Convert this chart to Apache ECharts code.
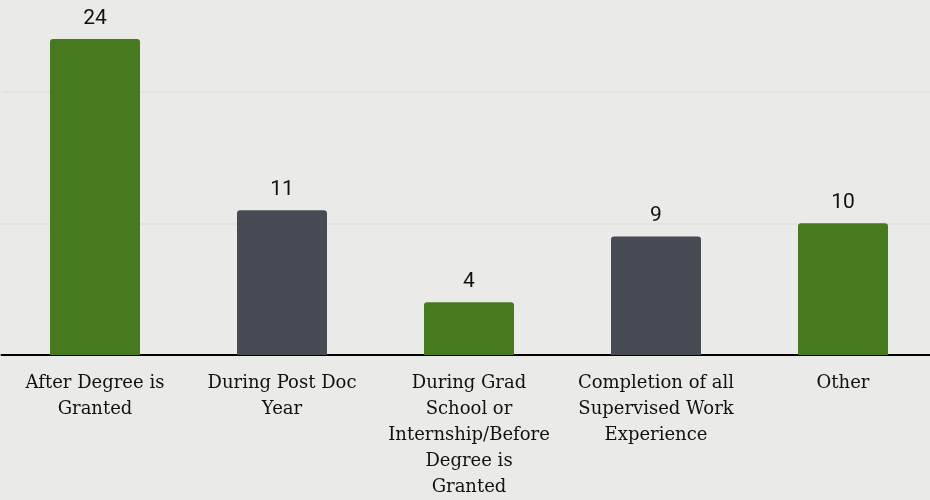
<!DOCTYPE html>
<html>
<head>
<meta charset="utf-8">
<script src="https://cdn.jsdelivr.net/npm/echarts@6/dist/echarts.min.js"></script>
<style>
  html, body { margin:0; padding:0; background:#eaebe8; }
  #main { width:930px; height:500px; }
</style>
</head>
<body>
<div id="main"></div>
<script>
// data
var categories = [
  "After Degree is\nGranted",
  "During Post Doc\nYear",
  "During Grad\nSchool or\nInternship/Before\nDegree is\nGranted",
  "Completion of all\nSupervised Work\nExperience",
  "Other"
];
var counts = [24, 11, 4, 9, 10];
var barColors = ["#477a1e", "#474b53", "#477a1e", "#474b53", "#477a1e"];

var myChart = echarts.init(document.getElementById("main"));

var option = {
  backgroundColor: "#eaebe8",
  animation: false,
  grid: {
    left: 1.5,
    width: 935,
    top: 39,
    bottom: 145,
    outerBoundsMode: "none",
    containLabel: false
  },
  xAxis: {
    type: "category",
    data: categories,
    axisTick: { show: false },
    axisLine: { lineStyle: { color: "#000", width: 2 } },
    axisLabel: {
      interval: 0,
      margin: 15,
      fontFamily: "DejaVu Serif",
      fontSize: 18,
      lineHeight: 26,
      color: "#111",
      align: "center"
    }
  },
  yAxis: {
    type: "value",
    min: 0,
    max: 24,
    interval: 10,
    axisLabel: { show: false },
    axisLine: { show: false },
    axisTick: { show: false },
    splitLine: {
      show: true,
      showMaxLine: false,
      lineStyle: { color: "#e1e3e0", width: 2 }
    }
  },
  series: [{
    type: "bar",
    barWidth: 90,
    data: counts.map(function (v, i) {
      return { value: v, itemStyle: { color: barColors[i] } };
    }),
    itemStyle: { borderRadius: [3, 3, 0, 0] },
    label: {
      show: true,
      position: "top",
      distance: 10,
      fontFamily: "Roboto",
      fontSize: 21,
      color: "#111"
    }
  }]
};

myChart.setOption(option);
</script>
</body>
</html>
